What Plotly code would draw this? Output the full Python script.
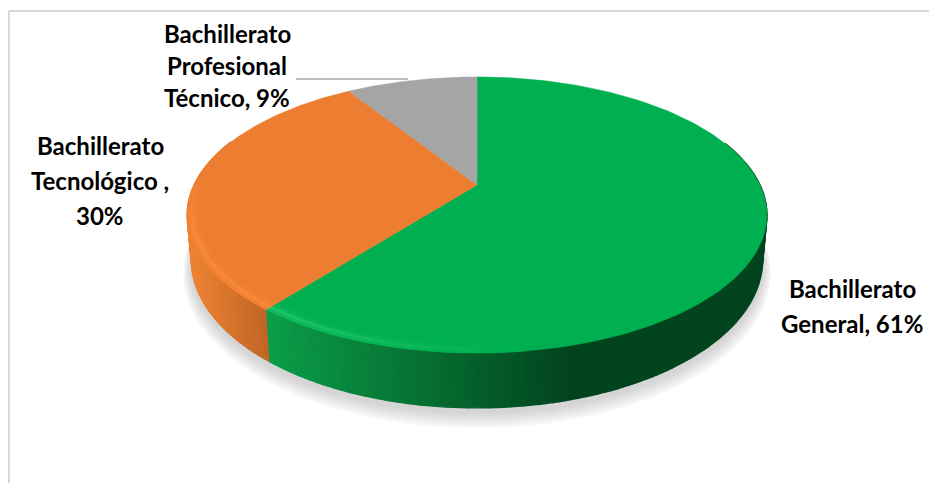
import numpy as np
import plotly.graph_objects as go

categories = ["Bachillerato General", "Bachillerato Tecnológico", "Bachillerato Profesional Técnico"]
values = [60.6, 30.4, 9.0]
label_lines = [["Bachillerato", "General, 61%"],
               ["Bachillerato", "Tecnológico ,", "30%"],
               ["Bachillerato", "Profesional", "Técnico, 9%"]]
top_colors = [(0, 176, 80), (237, 125, 49), (165, 165, 165)]
highlight_colors = [(40, 200, 110), (252, 142, 60), (175, 175, 175)]
wall_near = [(10, 158, 72), (236, 130, 50), (140, 140, 140)]
wall_far = [(2, 68, 30), (192, 100, 38), (120, 120, 120)]

# projection of the pie disc (perspective tilt, pixel axes)
CX, CY, A, B, K = 477.0, 185.0, 283.0, 131.5, 0.217
DEPTH = 43.0


def proj(theta, r=1.0, drop=0.0, shrink=1.0):
    u, v = r * np.sin(theta), r * np.cos(theta)
    d = 1 + K * v
    return CX + shrink * A * u / d, CY - B * v / d + drop / d


def rgb(c):
    return "rgb(%d,%d,%d)" % tuple(int(round(x)) for x in c)


def mix(a, b, t):
    t = float(np.clip(t, 0, 1))
    return tuple(a[i] + (b[i] - a[i]) * t for i in range(3))


def poly(xs, ys, color, name=None, width=0.8):
    return go.Scatter(x=list(xs), y=list(ys), mode="lines", fill="toself", fillcolor=color,
                      line=dict(color=color, width=width), hoverinfo="skip" if name is None else "name",
                      name=name or "", showlegend=False)


fractions = np.array(values, dtype=float) / sum(values)
edges = np.concatenate([[0], np.cumsum(fractions)]) * 2 * np.pi
fig = go.Figure()

# soft shadow under the disc
full = np.linspace(0, 2 * np.pi, 240)
for i in range(7, 0, -1):
    sx, sy = proj(full, r=1.0 + 0.004 * i, drop=DEPTH + 3 + 1.1 * i, shrink=0.985)
    fig.add_trace(poly(sx, sy, "rgba(150,150,150,0.07)", width=0))

# side wall, shaded along the screen x
for s in range(len(values)):
    n = max(2, int((edges[s + 1] - edges[s]) / 0.02))
    th = np.linspace(edges[s], edges[s + 1], n + 1)
    for a, b in zip(th[:-1], th[1:]):
        if np.cos((a + b) / 2) > 0.35:
            continue
        x1, y1 = proj(np.array([a, b]))
        x2, y2 = proj(np.array([b, a]), drop=DEPTH, shrink=0.985)
        xm = (x1[0] + x1[1]) / 2
        if s == 0:
            col = mix(wall_near[s], wall_far[s], (xm - 267) / 300)
        else:
            col = mix(wall_far[s], wall_near[s], (267 - xm) / 75)
        fig.add_trace(poly(np.r_[x1, x2], np.r_[y1, y2], rgb(col), width=1.4))

# top surface slices
for s in range(len(values)):
    th = np.linspace(edges[s], edges[s + 1], 160)
    x, y = proj(th)
    fig.add_trace(poly(np.r_[CX, x, CX], np.r_[CY, y, CY], rgb(top_colors[s]), name=categories[s], width=0.5))

# bevel highlight along the front rim
for s in range(2):
    n = int((edges[s + 1] - edges[s]) / 0.02)
    th = np.linspace(edges[s], edges[s + 1], n + 1)
    for a, b in zip(th[:-1], th[1:]):
        c = np.cos((a + b) / 2)
        if c > 0.1:
            continue
        xm = proj(np.array([(a + b) / 2]))[0][0]
        h = 1 - (xm - 267) / 260 if s == 0 else 0.9 * min(1.0, (0.1 - c) / 0.4)
        if h <= 0:
            continue
        for r0, r1, f in [(0.962, 0.976, 0.25), (0.976, 0.99, 0.8), (0.99, 1.0, 0.4)]:
            xa, ya = proj(np.array([a, b]), r=r0)
            xb, yb = proj(np.array([b, a]), r=r1)
            fig.add_trace(poly(np.r_[xa, xb], np.r_[ya, yb],
                               rgb(mix(top_colors[s], highlight_colors[s], h * f)), width=0.5))

# data labels, one text line per annotation
label_anchor = [(852, 288, 35), (100, 145, 35), (227, 33, 32)]
for lines, (lx, ly, step) in zip(label_lines, label_anchor):
    for i, line in enumerate(lines):
        fig.add_annotation(x=lx, y=ly + i * step, text=line, showarrow=False,
                           xanchor="center", yanchor="middle",
                           font=dict(family="Lato", size=24, color="#000000", weight="bold"))

fig.update_layout(
    width=929, height=483, margin=dict(l=0, r=0, t=0, b=0),
    paper_bgcolor="white", plot_bgcolor="white", showlegend=False,
    xaxis=dict(range=[0, 929], visible=False, fixedrange=True),
    yaxis=dict(range=[483, 0], visible=False, fixedrange=True),
    shapes=[
        dict(type="line", x0=9, x1=929, y0=11, y1=11, line=dict(color="#D9D9D9", width=2), layer="below"),
        dict(type="line", x0=9, x1=9, y0=11, y1=483, line=dict(color="#D9D9D9", width=2), layer="below"),
        dict(type="line", x0=296, x1=408, y0=79, y1=79, line=dict(color="#A6A6A6", width=1.3)),
    ],
)
# drop the page's default body margin so the figure fills the window
fig.write_html("out.html", config={"displayModeBar": False},
               post_script="document.body.style.margin='0';document.documentElement.style.overflow='hidden';")
